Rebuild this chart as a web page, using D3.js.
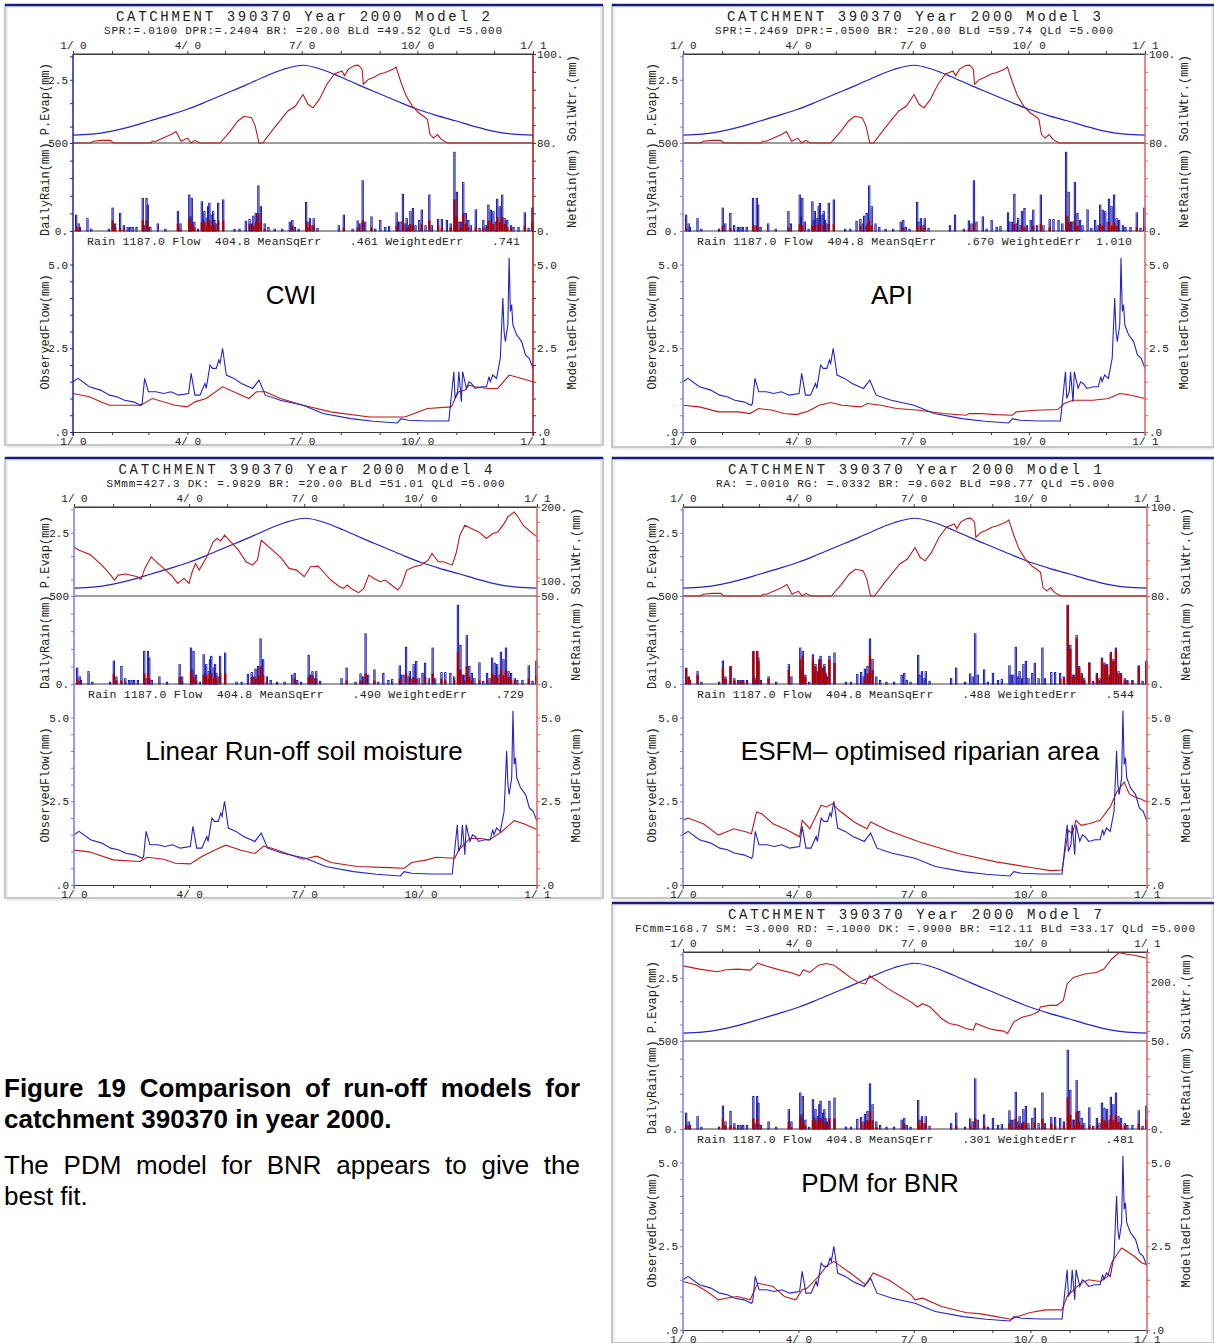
<!DOCTYPE html>
<html>
<head>
<meta charset="utf-8">
<style>
  body { margin: 0; background: white; font-family: "Liberation Sans", Arial, sans-serif; }
  #chart { position: absolute; left: 0; top: 0; }
  .caption { position: absolute; left: 4px; top: 1073px; width: 576px; font-size: 26px; line-height: 31px; color: black; }
  .caption div { white-space: nowrap; }
  .caption .just { white-space: normal; text-align: justify; text-align-last: justify; }
  .mono { font-family: "Liberation Mono", "DejaVu Sans Mono", monospace; fill: #222; }
</style>
</head>
<body>
<svg id="chart" width="1214" height="1343"></svg>
<div class="caption">
  <div class="just" style="font-weight:bold">Figure 19 Comparison of run-off models for</div>
  <div style="font-weight:bold">catchment 390370 in year 2000.</div>
  <div class="just" style="margin-top:15px">The PDM model for BNR appears to give the</div>
  <div>best fit.</div>
</div>
<script src="https://cdn.jsdelivr.net/npm/d3@7/dist/d3.min.js"></script>
<script>
// ---------- data (day of year 2000, value) ----------
var monthDays = [0, 31, 60, 91, 121, 152, 182, 213, 244, 274, 305, 335, 366];
var quarterDays = [0, 91, 182, 274, 366];
var quarterLabels = ["1/ 0", "4/ 0", "7/ 0", "10/ 0", "1/ 1"];

var evapDays = [0, 15, 30, 46, 61, 76, 91, 106, 121, 137, 152, 167, 183, 198, 213, 228, 244, 259, 274, 289, 305, 320, 335, 350, 366];
var evapMm = [1.32, 1.34, 1.40, 1.50, 1.62, 1.74, 1.87, 2.03, 2.20, 2.38, 2.56, 2.72, 2.81, 2.72, 2.56, 2.38, 2.20, 2.03, 1.87, 1.74, 1.62, 1.50, 1.40, 1.34, 1.32];

// daily rain (mm), only rain days
var dailyRain = [[2,9],[4,4],[5,2],[11,7],[14,1],[28,1],[31,13],[33,4],[37,10],[40,3],[43,2],[45,2],[47,2],[50,2],[55,18.5],[56,3],[58,18.5],[59,14.7],[61,2],[67,4],[73,1],[83,11],[85,4],[92,20.4],[93,8],[94,18.5],[96,5],[99,1],[102,16.6],[103,6],[104,11],[106,7],[107,13.8],[108,15.7],[110,9],[111,11],[112,6],[113,4],[115,15.7],[119,17.6],[128,1],[132,1],[137,5.5],[140,6.5],[142,4],[143,8.4],[145,10],[146,4],[147,25.6],[149,13.8],[152,4],[155,2],[160,1],[166,1],[172,5],[174,6],[176,2],[179,1],[185,16.2],[186,5],[188,7],[190,3],[191,7],[194,1.5],[211,3],[215,9],[222,1],[226,5.7],[228,4],[230,28.5],[232,5],[237,8],[240,1],[244,6],[248,2],[251,2.5],[257,10.3],[258,5],[260,5],[262,20.8],[264,4],[265,7],[267,3],[268,11],[270,12.8],[272,3],[275,6],[277,11.8],[280,3],[283,20.4],[285,3],[290,6.5],[293,6.5],[297,6],[300,4],[303,44.7],[304,8],[305,22],[307,5],[308,5],[310,27.5],[312,10],[314,6],[316,3],[320,12],[323,1.5],[326,6],[328,3],[330,14.7],[332,11.8],[334,11],[336,5],[337,18],[339,13.8],[341,20.4],[343,7],[345,6],[348,3],[350,2],[354,2],[359,10.3],[362,1.5],[365,13]];

// net rain (mm)
var netRainStd = [[2,2.5],[4,1.5],[31,6],[33,2],[37,2],[40,1],[55,6],[58,6],[59,3],[83,4],[85,1],[92,7],[94,4],[96,2],[102,5],[104,5],[106,3],[107,6],[108,6],[110,3],[111,4],[112,2],[115,6],[119,6],[140,4],[143,3],[145,5],[147,10],[149,5],[152,1],[174,3],[185,4],[186,2],[188,5],[191,3],[215,2],[226,2],[230,6],[237,2],[257,3],[262,6],[265,2],[268,4],[270,3],[277,4],[283,6],[290,3],[293,2],[300,2],[303,18],[304,4],[305,8],[308,2],[310,10],[312,4],[314,2],[320,2],[326,2],[330,6],[332,5],[334,4],[337,8],[339,5],[341,8],[343,4],[345,2],[348,2],[359,3],[365,5]];
var netRainApi = [[2,1.5],[31,3],[37,1.5],[55,3],[58,3],[59,2],[83,2],[92,4],[94,3],[102,3],[104,3],[107,4],[108,4],[111,3],[115,4],[119,4],[140,3],[145,3],[147,6],[149,3],[174,2],[185,3],[188,3],[191,2],[226,1.5],[230,4],[262,4],[268,3],[270,2],[277,3],[283,4],[290,2],[303,9],[305,5],[310,6],[312,3],[330,4],[332,3],[337,5],[339,3],[341,5],[343,3],[359,2],[365,3]];
var netRainEsfm = [[2,9],[4,4],[5,2],[11,5],[31,9],[33,3],[37,10],[40,2],[43,1.5],[45,1.5],[47,1.5],[50,1.5],[55,18.5],[56,2],[58,18.5],[59,13],[61,1],[67,3],[83,8],[92,14],[93,5],[94,16],[96,4],[102,14],[103,5],[104,10],[106,6],[107,12],[108,14],[110,7],[111,10],[112,5],[113,3],[115,14],[119,12],[143,3],[145,6],[147,16],[149,8],[297,3],[300,3],[303,44.7],[304,7],[305,20],[307,4],[308,4],[310,26],[312,9],[314,5],[316,2],[320,12],[323,1],[326,5],[328,2],[330,14],[332,11],[334,10],[336,4],[337,17],[339,13],[341,19],[343,6],[345,5],[348,2],[350,1.5],[354,1.5],[359,10],[365,12]];

// soil water (mm)
var soilWtrSpr = [[0,80],[14,80],[16,80.4],[23,80.6],[30,80.6],[32,80],[62,80],[63,80.4],[66,80.4],[78,81.9],[82,82.6],[86,80.4],[91,81.1],[94,80],[97,80.6],[101,80],[117,80],[125,82.6],[131,84.9],[136,86.0],[142,85.7],[145,83.8],[148,80],[151,80],[159,83.0],[171,87.2],[177,88.3],[183,90.9],[187,88.7],[191,87.9],[196,89.8],[202,93.2],[208,95.5],[214,96.2],[216,95.1],[219,96.6],[224,97.4],[227,97.5],[230,96.6],[231,93.2],[235,94.3],[239,94.7],[244,95.5],[248,95.8],[255,96.6],[257,97.1],[261,93.6],[265,90.6],[270,88.3],[275,86.8],[279,86.0],[282,85.3],[284,81.9],[287,81.1],[290,81.9],[293,80.8],[298,80],[366,80]];
var soilWtrM4 = [[0,146],[4,141.8],[13,135.6],[22,121.6],[29,108.2],[32,101.5],[35,108.2],[41,109.6],[50,106],[53,102.4],[56,117.2],[61,132.8],[65,126.1],[71,117.2],[78,106],[82,97],[87,103.7],[91,97],[93,110.4],[96,123.9],[99,114.9],[105,132.8],[110,153],[113,157.5],[116,154.3],[119,162],[124,153],[130,141.8],[136,126.1],[141,121.6],[145,128.4],[148,155.2],[151,150.8],[157,141.8],[164,130.6],[170,117.2],[176,114.9],[182,106],[187,119.4],[193,120.3],[197,112.7],[203,101.5],[210,92.5],[213,90.3],[216,94.8],[220,89],[225,84.5],[229,90.3],[233,108.2],[237,103.7],[242,99.3],[246,101.5],[251,94.8],[256,88.1],[259,94.8],[263,114.9],[269,119.4],[274,121.6],[280,128.4],[283,137.3],[288,126.1],[292,126.1],[299,121.6],[302,137.3],[305,162],[309,175.4],[314,170.9],[320,166.4],[326,157.5],[331,164.2],[335,166.4],[340,177.6],[343,186.6],[348,193.3],[351,186.6],[355,175.4],[361,166.4],[366,159.7]];
var soilWtrM7 = [[0,240],[13,231.7],[27,225],[34,230],[43,231.7],[53,229.2],[59,246.7],[65,240],[74,231.7],[86,221.7],[92,215],[95,230],[100,223.3],[107,241.7],[113,245.8],[119,241.7],[125,227.5],[132,210.8],[138,198.3],[144,194.2],[147,215],[153,202.5],[162,181.7],[171,165],[180,148.3],[185,136],[189,144.2],[195,135.8],[204,106.7],[210,94.2],[217,90],[223,81.7],[229,77.5],[231,94.2],[235,90],[241,81.7],[247,77.5],[253,75],[256,69],[261,98.3],[268,110.8],[274,115],[280,123.3],[282,135.8],[289,140],[295,140],[300,152.5],[303,194.2],[308,210.8],[317,219.2],[326,223.3],[332,231.7],[338,256.7],[344,273.3],[350,269.2],[356,266.7],[364,260.8],[366,260]];

// observed flow (mm)
var obsFlow = [[0,1.5],[4,1.6],[13,1.35],[22,1.25],[29,1.1],[35,1.05],[41,0.95],[48,0.9],[54,0.8],[55,0.85],[57,1.6],[60,1.2],[66,1.2],[72,1.15],[78,1.2],[84,1.1],[92,1.15],[94,1.75],[97,1.1],[101,1.1],[105,1.45],[106,1.3],[109,2.0],[111,1.9],[114,1.9],[116,2.15],[117,2.05],[119,2.5],[122,1.7],[128,1.6],[134,1.45],[143,1.3],[148,1.55],[153,1.1],[165,0.95],[183,0.8],[199,0.55],[221,0.4],[239,0.32],[258,0.27],[261,0.4],[267,0.35],[282,0.33],[299,0.33],[303,1.8],[304,1.0],[306,1.2],[307,1.8],[309,0.9],[310,1.8],[313,1.3],[315,1.5],[317,1.45],[320,1.3],[325,1.35],[329,1.35],[331,1.65],[332,1.5],[334,1.7],[337,1.6],[340,2.2],[342,4.0],[343,3.0],[344,2.7],[346,3.2],[347,5.2],[348,3.6],[349,3.8],[350,3.2],[353,2.9],[357,2.7],[360,2.3],[363,2.2],[366,1.9]];

// modelled flow (mm)
var flowM2 = [[0,1.15],[13,1.05],[22,0.9],[29,0.8],[54,0.8],[63,1.0],[81,0.8],[91,0.75],[97,0.9],[106,1.0],[119,1.35],[140,1.0],[146,1.2],[153,1.2],[165,1.0],[183,0.8],[205,0.6],[236,0.45],[264,0.45],[282,0.7],[301,0.75],[304,1.0],[307,1.2],[312,1.25],[315,1.4],[320,1.35],[330,1.3],[338,1.3],[347,1.7],[352,1.65],[366,1.5]];
var flowM3 = [[0,0.8],[13,0.75],[28,0.6],[44,0.6],[53,0.55],[60,0.7],[71,0.65],[80,0.55],[90,0.52],[99,0.62],[108,0.8],[117,0.88],[126,0.8],[141,0.75],[146,0.85],[157,0.8],[169,0.7],[187,0.65],[206,0.55],[224,0.5],[227,0.55],[236,0.55],[248,0.52],[261,0.5],[264,0.6],[279,0.65],[297,0.67],[302,0.85],[309,0.95],[325,0.95],[337,1.0],[346,1.15],[352,1.12],[366,1.0]];
var flowM4 = [[0,1.04],[12,0.99],[31,0.75],[52,0.7],[58,0.83],[71,0.77],[80,0.65],[92,0.63],[101,0.85],[111,1.04],[120,1.19],[132,1.04],[143,0.94],[150,1.16],[157,1.09],[181,0.77],[192,0.86],[203,0.67],[224,0.55],[249,0.52],[261,0.5],[267,0.67],[279,0.75],[286,0.83],[301,0.8],[304,1.04],[313,1.39],[322,1.39],[328,1.34],[338,1.59],[348,1.92],[356,1.82],[366,1.66]];
var flowM1 = [[0,1.93],[4,2.0],[16,1.83],[28,1.49],[34,1.58],[40,1.68],[50,1.58],[54,1.53],[58,2.18],[62,2.13],[71,1.83],[83,1.63],[92,1.44],[94,1.93],[100,1.68],[109,2.38],[113,2.33],[118,2.43],[123,2.23],[135,1.88],[145,1.68],[148,1.88],[162,1.63],[186,1.29],[217,0.94],[247,0.69],[278,0.5],[290,0.43],[299,0.45],[304,1.63],[307,1.53],[310,1.93],[314,1.78],[320,1.83],[329,1.93],[337,2.33],[342,2.77],[348,3.07],[352,2.72],[357,2.62],[361,2.57],[366,2.48]];
var flowM7 = [[0,1.45],[10,1.35],[19,1.15],[28,0.9],[34,0.95],[43,1.0],[53,0.9],[59,1.4],[71,1.3],[80,1.0],[89,0.9],[94,1.2],[98,1.25],[107,1.6],[113,1.9],[119,2.05],[132,1.7],[144,1.35],[150,1.7],[162,1.5],[180,1.05],[183,0.9],[189,0.95],[204,0.7],[223,0.52],[235,0.48],[247,0.4],[259,0.32],[264,0.4],[274,0.52],[286,0.6],[299,0.6],[303,1.0],[308,1.2],[314,1.4],[320,1.5],[329,1.45],[335,1.6],[338,2.0],[343,2.3],[346,2.45],[350,2.35],[356,2.2],[362,2.0],[366,1.95]];

// per-model texts
var modelNumbers = [2, 3, 4, 1, 7];
var modelParams = [
  "SPR:=.0100 DPR:=.2404 BR: =20.00 BLd =49.52 QLd =5.000",
  "SPR:=.2469 DPR:=.0500 BR: =20.00 BLd =59.74 QLd =5.000",
  "SMmm=427.3 DK: =.9829 BR: =20.00 BLd =51.01 QLd =5.000",
  "RA: =.0010 RG: =.0332 BR: =9.602 BLd =98.77 QLd =5.000",
  "FCmm=168.7 SM: =3.000 RD: =.1000 DK: =.9900 BR: =12.11 BLd =33.17 QLd =5.000"
];
var meanSqErr = [".461", ".670", ".490", ".488", ".301"];
var weightedErr = [".741", "1.010", ".729", ".544", ".481"];
var modelNames = ["CWI", "API", "Linear Run-off soil moisture", "ESFM\u2013 optimised riparian area", "PDM for BNR"];
var modelFlows = [flowM2, flowM3, flowM4, flowM1, flowM7];
var modelNetRain = [netRainStd, netRainApi, netRainStd, netRainEsfm, netRainStd];
var modelSoil = [soilWtrSpr, soilWtrSpr, soilWtrM4, soilWtrSpr, soilWtrM7];
var soilDomains = [[80, 100], [80, 100], [80, 200], [80, 100], [50, 275]];
var soilTickStep = [4, 4, 25, 4, 25];
var soilLabels = [[[100, "100."], [80, "80."]], [[100, "100."], [80, "80."]], [[200, "200."], [100, "100."], [80, "50."]], [[100, "100."], [80, "80."]], [[200, "200."], [50, "50."]]];

// ---------- layout ----------
var layout = [
  { x0: 5,   y0: 5,   w: 598, h: 440, left: 73,  right: 533,  nameX: 291, nameY: 304, dark: true },
  { x0: 612, y0: 5,   w: 602, h: 442, left: 683, right: 1145, nameX: 892, nameY: 304, dark: false },
  { x0: 5,   y0: 458, w: 598, h: 440, left: 74,  right: 537,  nameX: 304, nameY: 760, dark: false },
  { x0: 612, y0: 458, w: 602, h: 440, left: 683, right: 1147, nameX: 920, nameY: 760, dark: false },
  { x0: 612, y0: 903, w: 602, h: 440, left: 683, right: 1147, nameX: 880, nameY: 1192, dark: false }
];

var svg = d3.select("#chart");
var blueLine = "#2424bf", redLine = "#bd1a1a", gridLine = "#3a3a3a";

function monoText(g, x, y, txt, size, anchor) {
  return g.append("text").attr("class", "mono")
    .attr("x", x).attr("y", y)
    .attr("font-size", size)
    .attr("text-anchor", anchor || "start")
    .style("white-space", "pre")
    .text(txt);
}

function drawPanel(i) {
  var L = layout[i];
  var g = svg.append("g");
  var leftCol = L.dark ? "#2222a6" : "#7b7be6";
  var rightCol = L.dark ? "#a31212" : "#d96464";

  var top = L.y0 + 49, sep = L.y0 + 138, rainBot = L.y0 + 226, flowBot = L.y0 + 427;
  var x = d3.scaleLinear().domain([0, 366]).range([L.left, L.right]);
  var yEvap = d3.scaleLinear().domain([1.15, 3.05]).range([sep, top]);
  var ySoil = d3.scaleLinear().domain(soilDomains[i]).range([sep, top]);
  var yRain = d3.scaleLinear().domain([0, 50]).range([rainBot, sep]);
  var yFlow = d3.scaleLinear().domain([0, 6]).range([flowBot, rainBot]);
  var cx = (L.left + L.right) / 2;

  // window frame
  g.append("rect").attr("x", L.x0).attr("y", L.y0).attr("width", L.w).attr("height", L.h)
    .attr("fill", "none").attr("stroke", "#b4b4b4").attr("stroke-width", 1.5);
  g.append("rect").attr("x", L.x0 + 2).attr("y", L.y0 + 2).attr("width", L.w - 4).attr("height", L.h)
    .attr("fill", "none").attr("stroke", "#dcdcdc").attr("stroke-width", 1);
  g.append("line").attr("x1", L.x0).attr("x2", L.x0 + L.w).attr("y1", L.y0).attr("y2", L.y0)
    .attr("stroke", "#1a1a80").attr("stroke-width", 2.5);

  // titles
  monoText(g, cx, L.y0 + 15.5, "CATCHMENT 390370 Year 2000 Model " + modelNumbers[i], 14, "middle")
    .attr("textLength", 374).attr("lengthAdjust", "spacing");
  var ptxt = modelParams[i];
  monoText(g, cx, L.y0 + 28.5, ptxt, 11, "middle")
    .attr("textLength", ptxt.length * 7.37).attr("lengthAdjust", "spacing");

  // horizontal frame lines
  [top, sep, rainBot].forEach(function (yy) {
    g.append("line").attr("x1", L.left).attr("x2", L.right).attr("y1", yy).attr("y2", yy)
      .attr("stroke", gridLine).attr("stroke-width", 1.2);
  });

  // top and bottom date axes
  var fmt = function (d) { var k = quarterDays.indexOf(d); return k >= 0 ? quarterLabels[k] : ""; };
  var ax = g.append("g").attr("transform", "translate(0," + top + ")")
    .call(d3.axisTop(x).tickValues(monthDays).tickSize(3).tickSizeOuter(0).tickPadding(2).tickFormat(fmt));
  var bx = g.append("g").attr("transform", "translate(0," + flowBot + ")")
    .call(d3.axisBottom(x).tickValues(monthDays).tickSize(3).tickSizeOuter(0).tickPadding(2).tickFormat(fmt));
  [ax, bx].forEach(function (a) {
    a.select(".domain").attr("stroke", gridLine).attr("stroke-width", 1.2);
    a.selectAll(".tick line").attr("stroke", gridLine);
    a.selectAll("text").attr("class", "mono").attr("font-size", 11).style("white-space", "pre");
  });

  // upper panel: evaporation and soil water
  var evapPts = evapDays.map(function (d, k) { return [d, evapMm[k]]; });
  g.append("path").datum(evapPts)
    .attr("d", d3.line().x(function (d) { return x(d[0]); }).y(function (d) { return yEvap(d[1]); }).curve(d3.curveMonotoneX))
    .attr("fill", "none").attr("stroke", blueLine).attr("stroke-width", 1.2);
  g.append("path").datum(modelSoil[i])
    .attr("d", d3.line().x(function (d) { return x(d[0]); }).y(function (d) { return ySoil(d[1]); }))
    .attr("fill", "none").attr("stroke", redLine).attr("stroke-width", 1.1);

  // rain panel
  var bw = x(1) - x(0);
  g.append("g").selectAll("rect").data(dailyRain).join("rect")
    .attr("x", function (d) { return x(d[0]); })
    .attr("y", function (d) { return yRain(d[1]); })
    .attr("width", bw)
    .attr("height", function (d) { return rainBot - yRain(d[1]); })
    .attr("fill", "none").attr("stroke", "#1818b0").attr("stroke-width", 1);
  g.append("g").selectAll("rect").data(modelNetRain[i]).join("rect")
    .attr("x", function (d) { return x(d[0]) - 0.5; })
    .attr("y", function (d) { return yRain(d[1]); })
    .attr("width", bw + 1)
    .attr("height", function (d) { return rainBot - yRain(d[1]); })
    .attr("fill", "#b00000");

  // flow panel
  var fl = d3.line().x(function (d) { return x(d[0]); }).y(function (d) { return yFlow(d[1]); });
  g.append("path").datum(modelFlows[i]).attr("d", fl)
    .attr("fill", "none").attr("stroke", redLine).attr("stroke-width", 1.1);
  g.append("path").datum(obsFlow).attr("d", fl)
    .attr("fill", "none").attr("stroke", blueLine).attr("stroke-width", 1.1);

  // left axis
  g.append("line").attr("x1", L.left).attr("x2", L.left).attr("y1", top).attr("y2", flowBot + 4)
    .attr("stroke", leftCol).attr("stroke-width", 1.5);
  var la = g.append("g").attr("transform", "translate(" + L.left + ",0)");
  la.append("g").call(d3.axisLeft(yEvap).tickValues([1.5, 2.0, 2.5, 3.0]).tickSize(3).tickPadding(2)
    .tickFormat(function (d) { return d === 2.5 ? "2.5" : ""; }));
  la.append("g").call(d3.axisLeft(yRain).tickValues([0, 10, 20, 30, 40, 50]).tickSize(3).tickPadding(2)
    .tickFormat(function (d) { return d === 0 ? "0." : d === 50 ? "500" : ""; }));
  la.append("g").call(d3.axisLeft(yFlow).tickValues(d3.range(0, 5.01, 0.5)).tickSize(3).tickPadding(2)
    .tickFormat(function (d) { return d === 5 ? "5.0" : d === 2.5 ? "2.5" : d === 0 ? ".0" : ""; }));
  la.selectAll(".domain").remove();
  la.selectAll(".tick line").attr("stroke", leftCol);
  la.selectAll("text").attr("class", "mono").attr("font-size", 11);

  // right axis
  g.append("line").attr("x1", L.right).attr("x2", L.right).attr("y1", top).attr("y2", flowBot + 4)
    .attr("stroke", rightCol).attr("stroke-width", 1.5);
  var ra = g.append("g").attr("transform", "translate(" + L.right + ",0)");
  var sd = soilDomains[i];
  var sLab = soilLabels[i];
  var soilTicks = d3.range(sd[0], sd[1] + 0.01, soilTickStep[i]);
  sLab.forEach(function (s) { if (soilTicks.indexOf(s[0]) < 0) soilTicks.push(s[0]); });
  ra.append("g").call(d3.axisRight(ySoil).tickValues(soilTicks).tickSize(3).tickPadding(1)
    .tickFormat(function (d) { var m = sLab.filter(function (s) { return s[0] === d; }); return m.length ? m[0][1] : ""; }));
  ra.append("g").call(d3.axisRight(yRain).tickValues([0, 10, 20, 30, 40]).tickSize(3).tickPadding(1)
    .tickFormat(function (d) { return d === 0 ? "0." : ""; }));
  ra.append("g").call(d3.axisRight(yFlow).tickValues(d3.range(0, 5.01, 0.5)).tickSize(3).tickPadding(1)
    .tickFormat(function (d) { return d === 5 ? "5.0" : d === 2.5 ? "2.5" : d === 0 ? ".0" : ""; }));
  ra.selectAll(".domain").remove();
  ra.selectAll(".tick line").attr("stroke", rightCol);
  ra.selectAll("text").attr("class", "mono").attr("font-size", 11);

  // rotated axis titles
  monoText(g, 0, 0, "DailyRain(mm) P.Evap(mm)", 12)
    .attr("transform", "translate(" + (L.x0 + 44) + "," + (L.y0 + 231) + ") rotate(-90)");
  monoText(g, 0, 0, "ObservedFlow(mm)", 12, "middle")
    .attr("transform", "translate(" + (L.x0 + 44) + "," + (L.y0 + 327) + ") rotate(-90)");
  monoText(g, 0, 0, "NetRain(mm) SoilWtr.(mm)", 12)
    .attr("transform", "translate(" + (L.right + 43) + "," + (L.y0 + 223) + ") rotate(-90)");
  monoText(g, 0, 0, "ModelledFlow(mm)", 12, "middle")
    .attr("transform", "translate(" + (L.right + 43) + "," + (L.y0 + 327) + ") rotate(-90)");

  // statistics line
  var stats = "Rain 1187.0 Flow  404.8 MeanSqErr    " + meanSqErr[i] + " WeightedErr" +
    (weightedErr[i].length > 4 ? "  " : "    ") + weightedErr[i];
  monoText(g, L.left + 14, L.y0 + 240, stats, 11.5)
    .attr("textLength", (L.right - 13) - (L.left + 14)).attr("lengthAdjust", "spacing");

  // model name
  g.append("text").attr("x", L.nameX).attr("y", L.nameY)
    .attr("text-anchor", "middle")
    .attr("font-family", "'Liberation Sans', Arial, sans-serif")
    .attr("font-size", 26).attr("fill", "#000")
    .text(modelNames[i]);
}

for (var i = 0; i < layout.length; i++) drawPanel(i);
</script>
</body>
</html>
